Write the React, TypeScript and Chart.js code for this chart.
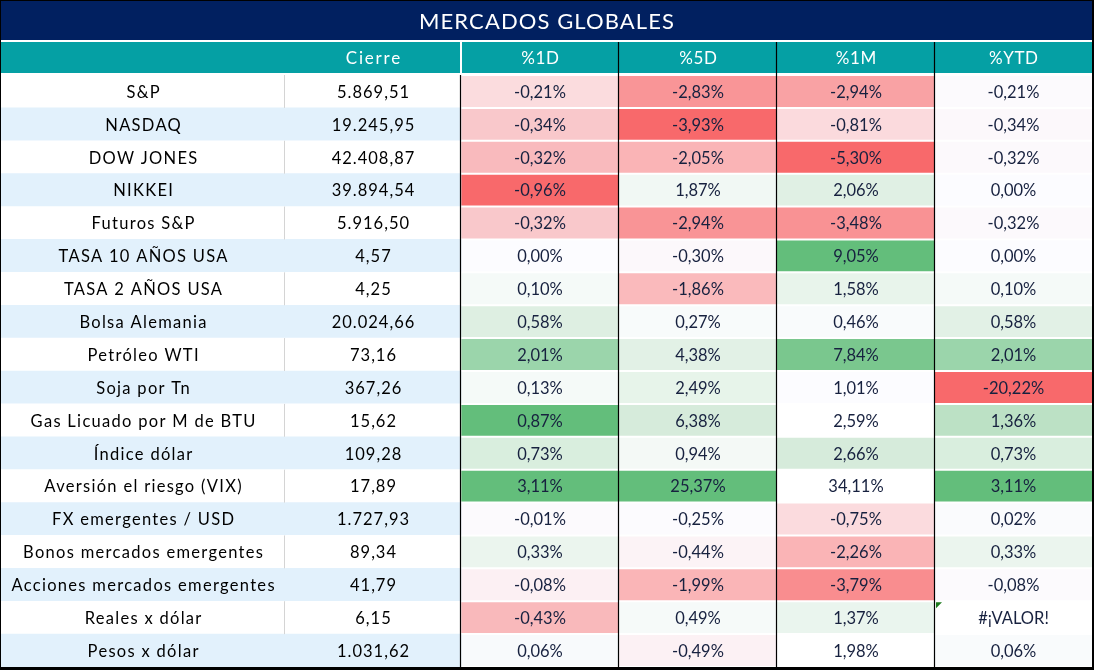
import { useEffect, useRef } from "react";
import { Chart, registerables } from "chart.js";

Chart.register(...registerables);

// ---------- DATA ----------
const title = "MERCADOS GLOBALES";
const columnHeaders = ["", "Cierre", "%1D", "%5D", "%1M", "%YTD"];

const instruments = [
  "S&P",
  "NASDAQ",
  "DOW JONES",
  "NIKKEI",
  "Futuros S&P",
  "TASA 10 AÑOS USA",
  "TASA 2 AÑOS USA",
  "Bolsa Alemania",
  "Petróleo WTI",
  "Soja por Tn",
  "Gas Licuado por M de BTU",
  "Índice dólar",
  "Aversión el riesgo (VIX)",
  "FX emergentes / USD",
  "Bonos mercados emergentes",
  "Acciones mercados emergentes",
  "Reales x dólar",
  "Pesos x dólar",
];

const cierre = [
  5869.51, 19245.95, 42408.87, 39894.54, 5916.5, 4.57, 4.25, 20024.66, 73.16,
  367.26, 15.62, 109.28, 17.89, 1727.93, 89.34, 41.79, 6.15, 1031.62,
];

const pct1D = [
  -0.21, -0.34, -0.32, -0.96, -0.32, 0.0, 0.1, 0.58, 2.01, 0.13, 0.87, 0.73,
  3.11, -0.01, 0.33, -0.08, -0.43, 0.06,
];
const pct5D = [
  -2.83, -3.93, -2.05, 1.87, -2.94, -0.3, -1.86, 0.27, 4.38, 2.49, 6.38, 0.94,
  25.37, -0.25, -0.44, -1.99, 0.49, -0.49,
];
const pct1M = [
  -2.94, -0.81, -5.3, 2.06, -3.48, 9.05, 1.58, 0.46, 7.84, 1.01, 2.59, 2.66,
  34.11, -0.75, -2.26, -3.79, 1.37, 1.98,
];
const pctYTD: (number | null)[] = [
  -0.21, -0.34, -0.32, 0.0, -0.32, 0.0, 0.1, 0.58, 2.01, -20.22, 1.36, 0.73,
  3.11, 0.02, 0.33, -0.08, null, 0.06,
];

// ---------- STYLE ----------
const COL_EDGES = [0, 284, 460, 618, 776, 934, 1091];
const NAVY = "#012060";
const TEAL = "#05A0A4";
const BAND_BLUE = "#E2F1FC";
const PCT_TEXT = "#17213F";
const FONT = "Lato, 'Noto Sans', sans-serif";

const fill1D = [
  "#FBDCDE", "#F9C8CB", "#F9BABD", "#F8696B", "#F9C8CB", "#FCFCFF",
  "#F5FAF8", "#DEEFE2", "#9BD5AB", "#F5FAF8", "#63BE7B", "#D9EEDE",
  "#63BE7B", "#FCFAFD", "#EBF5EE", "#FCF0F3", "#F9B9BB", "#F8FAFC",
];
const fill5D = [
  "#F99597", "#F8696B", "#FAB4B6", "#F1F8F4", "#F99496", "#FCF8FB",
  "#FABABC", "#F8FBFB", "#E2F1E6", "#E7F4EA", "#D6EBDB", "#F4F9F6",
  "#63BE7B", "#FCFBFE", "#FCF3F6", "#FAB5B7", "#F6FAF9", "#FCF1F4",
];
const fill1M = [
  "#F9A2A4", "#FBDADD", "#F8696B", "#E0F0E4", "#F99294", "#63BE7B",
  "#E8F4EB", "#F9FBFC", "#7AC78E", "#FCFCFF", "#FFFFFF", "#D6EBDB",
  "#FFFFFF", "#FBDBDE", "#FAB4B6", "#F98D8F", "#EAF5EE", "#FFFFFF",
];
const fillYTD = [
  "#FCFAFD", "#FCF8FB", "#FCF9FC", "#FCFCFF", "#FCF9FC", "#FCFCFF",
  "#F5FAF8", "#E2F1E6", "#9BD5AB", "#F8696B", "#BCE1C5", "#D9EEDE",
  "#63BE7B", "#FAFBFD", "#EBF5EE", "#FCFAFD", "#FFFFFF", "#F9FBFC",
];

function fmtNum(v: number): string {
  const [i, d] = v.toFixed(2).split(".");
  const neg = i.startsWith("-");
  const digits = neg ? i.slice(1) : i;
  const grouped = digits.replace(/\B(?=(\d{3})+(?!\d))/g, ".");
  return (neg ? "-" : "") + grouped + "," + d;
}
const fmtPct = (v: number | null) => (v === null ? "#¡VALOR!" : fmtNum(v) + "%");

const pctCols = [pct1D, pct5D, pct1M, pctYTD];
const pctFills = [fill1D, fill5D, fill1M, fillYTD];

function spacedText(ctx: any, text: string, cx: number, cy: number, spacing: number) {
  ctx.letterSpacing = `${spacing}px`;
  ctx.fillText(text, cx + spacing / 2, cy);
  ctx.letterSpacing = "0px";
}

const tablePlugin = {
  id: "tableDecor",
  afterDatasetsDraw(chart: any) {
    const { ctx, chartArea, scales } = chart;
    const x = scales.x;
    const y = scales.y;
    const e = COL_EDGES.map((v) => x.getPixelForValue(v));
    const top = chartArea.top;
    const bottom = chartArea.bottom;
    const rowH = (bottom - top) / instruments.length;
    const left = e[0];
    const right = e[6];
    ctx.save();

    // title band
    ctx.fillStyle = NAVY;
    ctx.fillRect(left, 1, right - left, top - 35 - 1);
    ctx.fillStyle = "#FFFFFF";
    ctx.font = `22px ${FONT}`;
    ctx.textAlign = "center";
    ctx.textBaseline = "middle";
    spacedText(ctx, title, (left + right) / 2, (1 + top - 35) / 2 + 1, 1.1);

    // header band
    const hTop = top - 33;
    const hBot = top - 2;
    ctx.fillStyle = TEAL;
    ctx.fillRect(left, hTop, right - left, hBot - hTop);
    ctx.fillStyle = "#FFFFFF";
    ctx.fillRect(e[2] - 1, hTop, 2, hBot - hTop);
    ctx.font = `17px ${FONT}`;
    for (let c = 0; c < columnHeaders.length; c++) {
      if (!columnHeaders[c]) continue;
      spacedText(ctx, columnHeaders[c], (e[c] + e[c + 1]) / 2, (hTop + hBot) / 2 + 1, c === 1 ? 1.8 : 0.6);
    }

    // gray separator in white rows between name and Cierre
    ctx.strokeStyle = "#D4D4D4";
    ctx.lineWidth = 1;
    for (let i = 0; i < instruments.length; i += 2) {
      const yc = y.getPixelForValue(i);
      ctx.beginPath();
      ctx.moveTo(Math.round(e[1]) - 0.5, yc - rowH / 2);
      ctx.lineTo(Math.round(e[1]) - 0.5, yc + rowH / 2);
      ctx.stroke();
    }

    // black separators
    ctx.strokeStyle = "#000000";
    ctx.lineWidth = 1.2;
    for (let c = 2; c <= 5; c++) {
      const xx = Math.round(e[c]) - 0.5;
      ctx.beginPath();
      ctx.moveTo(xx, c === 2 ? top : hTop);
      ctx.lineTo(xx, bottom);
      ctx.stroke();
    }

    // texts
    ctx.font = `16.5px ${FONT}`;
    for (let i = 0; i < instruments.length; i++) {
      const yc = y.getPixelForValue(i) + 1;
      ctx.fillStyle = "#000000";
      spacedText(ctx, instruments[i], (e[0] + e[1]) / 2, yc, 1.3);
      spacedText(ctx, fmtNum(cierre[i]), (e[1] + e[2]) / 2, yc, 1.0);
      ctx.fillStyle = PCT_TEXT;
      for (let c = 0; c < 4; c++) {
        ctx.fillText(fmtPct(pctCols[c][i]), (e[c + 2] + e[c + 3]) / 2, yc);
      }
      if (pctYTD[i] === null) {
        const ty = y.getPixelForValue(i) - rowH / 2 + 1;
        ctx.fillStyle = "#1E7B1E";
        ctx.beginPath();
        ctx.moveTo(e[5] + 1, ty);
        ctx.lineTo(e[5] + 7, ty);
        ctx.lineTo(e[5] + 1, ty + 6);
        ctx.closePath();
        ctx.fill();
      }
    }

    // outer border
    ctx.fillStyle = "#000000";
    ctx.fillRect(0, 0, 1094, 1);
    ctx.fillRect(0, 0, 1, 670);
    ctx.fillRect(right, 0, 2, 670);
    ctx.fillRect(0, bottom, 1094, 3);
    ctx.restore();
  },
};

export default function App() {
  const ref = useRef<HTMLCanvasElement>(null);

  useEffect(() => {
    document.body.style.margin = "0";
    const canvas = ref.current;
    if (!canvas) return;

    const bandColors = instruments.map((_, i) => (i % 2 ? BAND_BLUE : "#FFFFFF"));
    const datasets: any[] = [
      {
        data: instruments.map(() => [COL_EDGES[0], COL_EDGES[1]]),
        backgroundColor: bandColors,
        barPercentage: 1,
        categoryPercentage: 1,
        grouped: false,
        borderWidth: 0,
      },
      {
        data: instruments.map(() => [COL_EDGES[1], COL_EDGES[2]]),
        backgroundColor: bandColors,
        barPercentage: 1,
        categoryPercentage: 1,
        grouped: false,
        borderWidth: 0,
      },
    ];
    pctCols.forEach((_, c) => {
      datasets.push({
        data: instruments.map(() => [COL_EDGES[c + 2], COL_EDGES[c + 3]]),
        backgroundColor: pctFills[c],
        barPercentage: 0.94,
        categoryPercentage: 1,
        grouped: false,
        borderWidth: 0,
      });
    });

    const chart = new Chart(canvas, {
      type: "bar",
      data: { labels: instruments, datasets },
      options: {
        indexAxis: "y",
        responsive: false,
        animation: false,
        devicePixelRatio: 1,
        layout: { padding: { top: 75, bottom: 3, left: 1, right: 2 } },
        plugins: { legend: { display: false }, tooltip: { enabled: false } },
        scales: {
          x: { type: "linear", min: COL_EDGES[0], max: COL_EDGES[6], display: false },
          y: { type: "category", display: false, offset: true },
        },
      },
      plugins: [tablePlugin],
    });
    return () => chart.destroy();
  }, []);

  return (
    <div style={{ width: 1094, height: 670, background: "#FFFFFF" }}>
      <canvas ref={ref} width={1094} height={670} style={{ display: "block" }} />
    </div>
  );
}
